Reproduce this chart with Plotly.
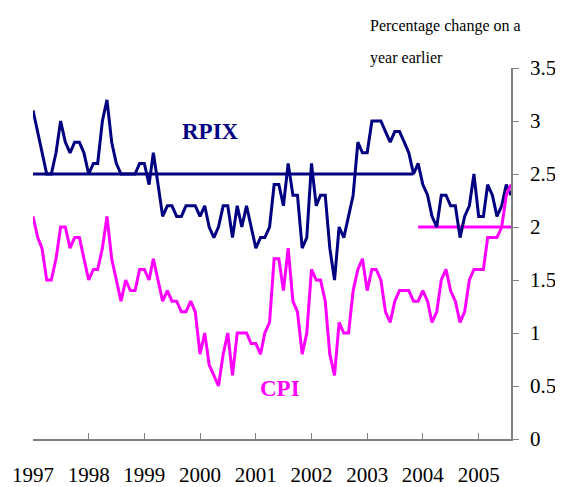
import pandas as pd
import plotly.graph_objects as go

# monthly annual inflation rates, Jan 1997 - Aug 2005
rpix = [
    3.1, 2.9, 2.7, 2.5, 2.5, 2.7, 3.0, 2.8, 2.7, 2.8, 2.8, 2.7,  # 1997
    2.5, 2.6, 2.6, 3.0, 3.2, 2.8, 2.6, 2.5, 2.5, 2.5, 2.5, 2.6,  # 1998
    2.6, 2.4, 2.7, 2.4, 2.1, 2.2, 2.2, 2.1, 2.1, 2.2, 2.2, 2.2,  # 1999
    2.1, 2.2, 2.0, 1.9, 2.0, 2.2, 2.2, 1.9, 2.2, 2.0, 2.2, 2.0,  # 2000
    1.8, 1.9, 1.9, 2.0, 2.4, 2.4, 2.2, 2.6, 2.3, 2.3, 1.8, 1.9,  # 2001
    2.6, 2.2, 2.3, 2.3, 1.8, 1.5, 2.0, 1.9, 2.1, 2.3, 2.8, 2.7,  # 2002
    2.7, 3.0, 3.0, 3.0, 2.9, 2.8, 2.9, 2.9, 2.8, 2.7, 2.5, 2.6,  # 2003
    2.4, 2.3, 2.1, 2.0, 2.3, 2.3, 2.2, 2.2, 1.9, 2.1, 2.2, 2.5,  # 2004
    2.1, 2.1, 2.4, 2.3, 2.1, 2.2, 2.4, 2.3,  # 2005
]
cpi = [
    2.1, 1.9, 1.8, 1.5, 1.5, 1.7, 2.0, 2.0, 1.8, 1.9, 1.9, 1.7,  # 1997
    1.5, 1.6, 1.6, 1.8, 2.1, 1.7, 1.5, 1.3, 1.5, 1.4, 1.4, 1.6,  # 1998
    1.6, 1.5, 1.7, 1.5, 1.3, 1.4, 1.3, 1.3, 1.2, 1.2, 1.3, 1.2,  # 1999
    0.8, 1.0, 0.7, 0.6, 0.5, 0.8, 1.0, 0.6, 1.0, 1.0, 1.0, 0.9,  # 2000
    0.9, 0.8, 1.0, 1.1, 1.7, 1.7, 1.4, 1.8, 1.3, 1.2, 0.8, 1.0,  # 2001
    1.6, 1.5, 1.5, 1.3, 0.8, 0.6, 1.1, 1.0, 1.0, 1.4, 1.6, 1.7,  # 2002
    1.4, 1.6, 1.6, 1.5, 1.2, 1.1, 1.3, 1.4, 1.4, 1.4, 1.3, 1.3,  # 2003
    1.4, 1.3, 1.1, 1.2, 1.5, 1.6, 1.4, 1.3, 1.1, 1.2, 1.5, 1.6,  # 2004
    1.6, 1.6, 1.9, 1.9, 1.9, 2.0, 2.3, 2.4,  # 2005
]

# inflation targets
rpix_target = 2.5
rpix_target_period = ["1997-01-01", "2003-11-01"]
cpi_target = 2.0
cpi_target_period = ["2003-12-01", "2005-08-01"]

years = [str(y) for y in range(1997, 2006)]

months = pd.date_range("1997-01-01", periods=len(rpix), freq="MS")

navy = "#000080"
magenta = "#FF00FF"
serif = "Liberation Serif"

fig = go.Figure()
fig.add_trace(go.Scatter(x=rpix_target_period, y=[rpix_target] * 2, mode="lines",
                         line=dict(color=navy, width=3)))
fig.add_trace(go.Scatter(x=cpi_target_period, y=[cpi_target] * 2, mode="lines",
                         line=dict(color=magenta, width=3)))
fig.add_trace(go.Scatter(x=months, y=rpix, mode="lines", line=dict(color=navy, width=3)))
fig.add_trace(go.Scatter(x=months, y=cpi, mode="lines", line=dict(color=magenta, width=3)))

# series labels and axis caption
fig.add_annotation(x="2000-03-10", y=2.9, text="<b>RPIX</b>", showarrow=False,
                   font=dict(family=serif, size=23, color=navy))
fig.add_annotation(x="2001-06-10", y=0.48, text="<b>CPI</b>", showarrow=False,
                   font=dict(family=serif, size=23, color=magenta))
fig.add_annotation(x=0.70, y=1.113, xref="paper", yref="paper", xanchor="left",
                   yanchor="middle", text="Percentage change on a", showarrow=False,
                   font=dict(family=serif, size=16, color="black"))
fig.add_annotation(x=0.70, y=1.027, xref="paper", yref="paper", xanchor="left",
                   yanchor="middle", text="year earlier", showarrow=False,
                   font=dict(family=serif, size=16, color="black"))

fig.update_xaxes(
    type="date", range=["1997-01-01", "2005-08-01"],
    tickvals=[y + "-01-01" for y in years], ticktext=years,
    ticks="inside", ticklen=6, tickcolor="gray", showline=True, linecolor="gray",
    linewidth=1.5, showgrid=False, zeroline=False, ticklabelstandoff=16,
    automargin=False, ticklabeloverflow="allow",
    tickfont=dict(family=serif, size=21, color="black"),
)
fig.update_yaxes(
    side="right", range=[0, 3.5], dtick=0.5, ticks="outside", ticklen=6,
    tickcolor="gray", showline=True, linecolor="gray", linewidth=1.5,
    showgrid=False, zeroline=False, ticklabelstandoff=7, automargin=False,
    ticklabeloverflow="allow",
    tickfont=dict(family=serif, size=21, color="black"),
)
# the page puts the plot 8px in from the top-left corner, so the figure is
# 8px smaller and the left/top margins are 8px narrower
fig.update_layout(
    width=555, height=479, showlegend=False,
    margin=dict(l=25, r=52, t=60, b=48),
    plot_bgcolor="white", paper_bgcolor="white",
)

fig.write_html("out.html")
